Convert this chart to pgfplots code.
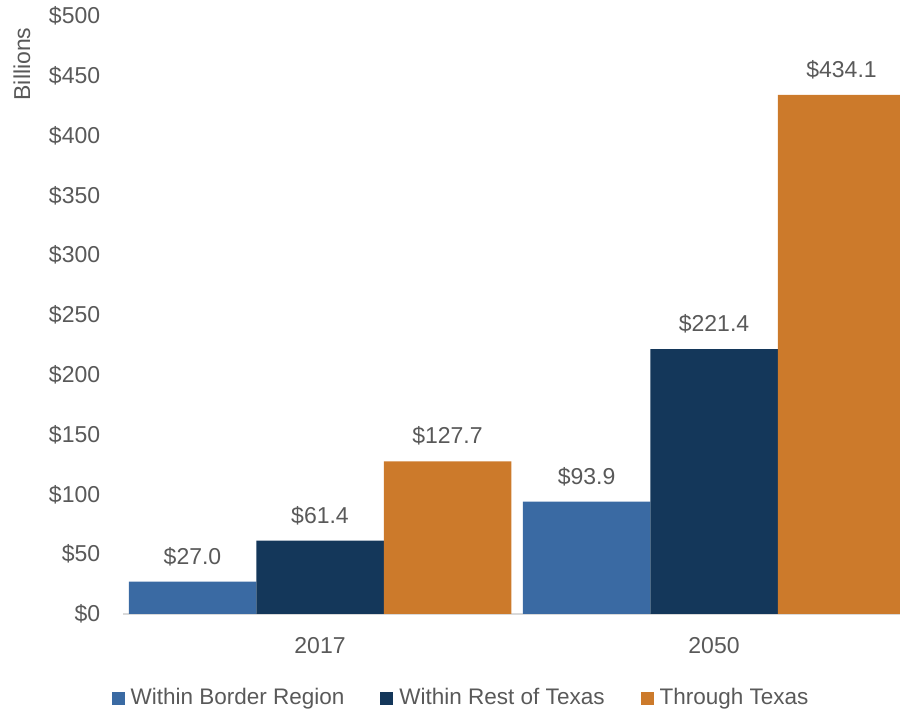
\documentclass[border=0pt]{standalone}
\usepackage{pgfplots}
\pgfplotsset{compat=1.18}
\usepackage{fontspec}
\setmainfont{Liberation Sans}
\definecolor{cblue}{HTML}{3A6AA3}
\definecolor{cnavy}{HTML}{14375A}
\definecolor{corange}{HTML}{CC7A2B}
\definecolor{ctext}{HTML}{595959}
\definecolor{caxis}{HTML}{D9D9D9}
\begin{document}
\begin{tikzpicture}
\fontsize{23bp}{27bp}\selectfont
\begin{axis}[
  at={(123bp,98bp)}, anchor=south west,
  scale only axis, width=777bp, height=598bp,
  ybar=0pt, bar width=127.5bp,
  xmin=-0.5, xmax=1.472, ymin=0, ymax=500,
  xtick={0,1}, xticklabels={2017,2050},
  ytick={0,50,...,500},
  yticklabel={\$\pgfmathprintnumber{\tick}},
  /pgf/number format/assume math mode=true,
  axis x line*=bottom, axis y line*=left,
  x axis line style={-, draw=caxis, line width=2.5bp},
  y axis line style={draw=none},
  major tick length=0pt,
  tick label style={color=ctext, font=\fontsize{23bp}{27bp}\selectfont},
  xticklabel style={yshift=-16bp},
  yticklabel style={xshift=-15bp},
  nodes near coords={\$\pgfmathprintnumber[fixed,fixed zerofill,precision=1]{\pgfplotspointmeta}},
  nodes near coords style={color=ctext, font=\fontsize{23bp}{27bp}\selectfont, anchor=south, yshift=8bp, /pgf/number format/assume math mode=true},
  legend style={draw=none, fill=none, at={(rel axis cs:0.435,-0.1405)}, anchor=center, legend columns=3,
    font=\fontsize{22.5bp}{27bp}\selectfont, text=ctext,
    /tikz/every odd column/.append style={column sep=4bp},
    /tikz/every even column/.append style={column sep=34bp}},
  legend cell align=left,
  legend image code/.code={\fill[#1] (0bp,-6.5bp) rectangle (13bp,6.5bp);},
]
\addplot[fill=cblue, draw=none] coordinates {(0,27.0) (1,93.9)};
\addplot[fill=cnavy, draw=none] coordinates {(0,61.4) (1,221.4)};
\addplot[fill=corange, draw=none] coordinates {(0,127.7) (1,434.1)};
\legend{Within Border Region, Within Rest of Texas, Through Texas}
\end{axis}
\node[rotate=90, color=ctext, font=\fontsize{23bp}{27bp}\selectfont] at (22bp,648bp) {Billions};
\pgfresetboundingbox
\path (0,0) rectangle (900bp,712bp);
\end{tikzpicture}
\end{document}
